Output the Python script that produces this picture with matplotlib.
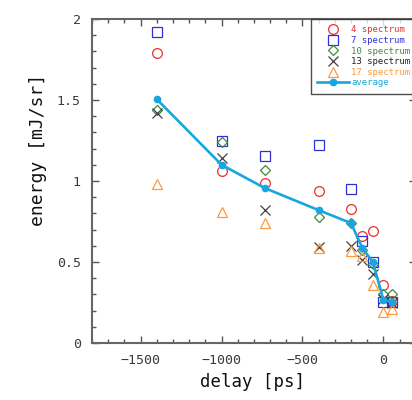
#!/bin/python3

import matplotlib
matplotlib.use('Agg')
import matplotlib.pyplot as plt
from matplotlib.ticker import MultipleLocator

# delay values [ps] shared by every series
delay = [-1400, -1000, -730, -400, -200, -130, -65, 0, 50]

# energy [mJ/sr] per spectrum count
spec_4 = [1.79, 1.06, 0.985, 0.94, 0.83, 0.66, 0.69, 0.36, 0.26]
spec_7 = [1.92, 1.25, 1.155, 1.22, 0.95, 0.63, 0.50, 0.255, 0.255]
spec_10 = [1.44, 1.24, 1.07, 0.775, 0.74, 0.575, 0.49, 0.30, 0.305]
spec_13 = [1.42, 1.14, 0.82, 0.595, 0.60, 0.515, 0.425, 0.27, 0.25]
spec_17 = [0.98, 0.81, 0.74, 0.585, 0.57, 0.535, 0.36, 0.19, 0.21]
average = [1.505, 1.10, 0.955, 0.82, 0.74, 0.585, 0.50, 0.265, 0.255]

labels = ['4 spectrum', '7 spectrum', '10 spectrum', '13 spectrum', '17 spectrum', 'average']

font = 'DejaVu Sans Mono'
plt.rcParams['font.family'] = [font]

fig = plt.figure(figsize=(4.12, 4.0), dpi=100)
ax = fig.add_axes([0.2233, 0.1425, 0.786, 0.81])

# scatter series: (values, marker, size, colour)
series = [
    (spec_4, 'o', 7, '#e83030'),
    (spec_7, 's', 7, '#3030d8'),
    (spec_10, 'D', 5, '#3f8a3f'),
    (spec_13, 'x', 7, '#404040'),
    (spec_17, '^', 7, '#ff9a3c'),
]
for (vals, m, ms, c), lab in zip(series, labels):
    ax.plot(delay, vals, linestyle='none', marker=m, markersize=ms,
            markerfacecolor='none', markeredgecolor=c, markeredgewidth=0.9,
            label=lab)

ax.plot(delay, average, color='#17a6e0', linewidth=1.9, marker='o',
        markersize=4.5, label=labels[5], zorder=5)

ax.set_xlim(-1800, 200)
ax.set_ylim(0, 2)
ax.xaxis.set_major_locator(MultipleLocator(500))
ax.xaxis.set_minor_locator(MultipleLocator(100))
ax.yaxis.set_major_locator(MultipleLocator(0.5))
ax.yaxis.set_minor_locator(MultipleLocator(0.1))
ax.yaxis.set_major_formatter(plt.FuncFormatter(lambda v, p: ('%g' % v)))
ax.xaxis.set_major_formatter(plt.FuncFormatter(lambda v, p: ('%d' % v).replace('-', '\u2212')))

ax.tick_params(which='both', direction='in', top=True, right=True, colors='#555555',
               labelcolor='#3a3a3a', labelsize=9.5)
ax.tick_params(which='major', length=5, width=1)
ax.tick_params(which='minor', length=3, width=1)
ax.tick_params(axis='x', pad=8)
ax.tick_params(axis='y', pad=8)
for s in ax.spines.values():
    s.set_color('#666666')
    s.set_linewidth(1.5)

fig.text(0.614, 0.045, 'delay [ps]', ha='center', va='center', fontsize=12.5, color='#111111')
fig.text(0.092, 0.625, 'energy [mJ/sr]', ha='center', va='center', rotation=90,
         fontsize=13, color='#111111')

leg = ax.legend(loc='upper left', bbox_to_anchor=(0.675, 1.0), borderaxespad=0,
                fontsize=6.5, frameon=True, fancybox=False, handlelength=3.6,
                handletextpad=0.2, labelspacing=0.18, borderpad=0.7)
leg.get_frame().set_edgecolor('#222222')
leg.get_frame().set_linewidth(1.0)
text_colors = ['#e83030', '#3030d8', '#3f8a3f', '#222222', '#ff9a3c', '#17a6e0']
for t, c in zip(leg.get_texts(), text_colors):
    t.set_color(c)

fig.savefig('out.png', dpi=100)
